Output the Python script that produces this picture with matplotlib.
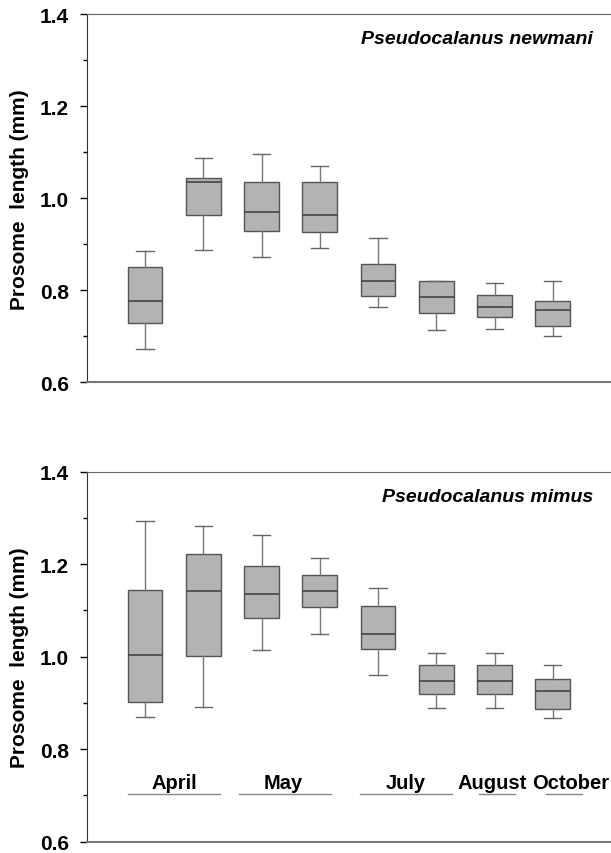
import matplotlib
matplotlib.use("Agg")
import matplotlib.pyplot as plt
from matplotlib.ticker import MultipleLocator, FormatStrFormatter

plt.rcParams["font.family"] = ["Liberation Sans", "DejaVu Sans"]

# box statistics (mm)
newmani_whislo = [0.673, 0.888, 0.872, 0.893, 0.765, 0.714, 0.716, 0.701]
newmani_q1 = [0.730, 0.964, 0.930, 0.927, 0.788, 0.750, 0.743, 0.722]
newmani_med = [0.777, 1.036, 0.971, 0.964, 0.821, 0.785, 0.763, 0.757]
newmani_q3 = [0.851, 1.044, 1.036, 1.035, 0.857, 0.820, 0.790, 0.777]
newmani_whishi = [0.885, 1.088, 1.097, 1.071, 0.913, 0.820, 0.816, 0.820]

mimus_whislo = [0.870, 0.892, 1.014, 1.050, 0.960, 0.890, 0.890, 0.867]
mimus_q1 = [0.903, 1.001, 1.084, 1.107, 1.017, 0.919, 0.919, 0.886]
mimus_med = [1.003, 1.143, 1.135, 1.142, 1.050, 0.947, 0.947, 0.925]
mimus_q3 = [1.144, 1.221, 1.197, 1.177, 1.109, 0.981, 0.981, 0.952]
mimus_whishi = [1.293, 1.282, 1.263, 1.213, 1.148, 1.009, 1.009, 0.983]

months = ["April", "May", "July", "August", "October"]
month_text_x = [1.50, 3.38, 5.48, 6.96, 8.31]
month_line_start = [0.70, 2.62, 4.69, 6.73, 7.88]
month_line_end = [2.29, 4.20, 6.27, 7.36, 8.50]


def make_stats(lo, q1, med, q3, hi):
    return [dict(whislo=a, q1=b, med=c, q3=d, whishi=e, fliers=[])
            for a, b, c, d, e in zip(lo, q1, med, q3, hi)]


def draw_panel(ax, stats, species):
    ax.bxp(stats, positions=range(1, len(stats) + 1), widths=0.6,
           patch_artist=True, showfliers=False,
           boxprops=dict(facecolor="#b3b3b3", edgecolor="#555555", linewidth=1.0),
           medianprops=dict(color="#444444", linewidth=1.2),
           whiskerprops=dict(color="#777777", linewidth=1.0),
           capprops=dict(color="#666666", linewidth=1.0))
    ax.set_xlim(0, 9)
    ax.set_ylim(0.6, 1.4)
    ax.yaxis.set_major_locator(MultipleLocator(0.2))
    ax.yaxis.set_minor_locator(MultipleLocator(0.1))
    ax.yaxis.set_major_formatter(FormatStrFormatter("%.1f"))
    ax.tick_params(axis="y", which="major", length=5, width=1, labelsize=15, pad=8)
    ax.tick_params(axis="y", which="minor", length=3, width=1)
    for lab in ax.get_yticklabels():
        lab.set_fontweight("bold")
    ax.set_xticks([])
    ax.spines["right"].set_visible(False)
    ax.spines["left"].set_color("#333333")
    ax.spines["top"].set_color("#666666")
    ax.spines["bottom"].set_color("#777777")
    ax.spines["bottom"].set_linewidth(1.5)
    ax.set_ylabel("Prosome  length (mm)", fontsize=15, fontweight="bold")
    ax.yaxis.set_label_coords(-0.11, 0.5)
    ax.text(8.69, 1.347, species, ha="right", va="center", fontsize=14,
            fontweight="bold", style="italic")


fig = plt.figure(figsize=(6.11, 8.54), dpi=100)
ax1 = fig.add_axes([0.142, 0.551, 0.858, 0.431])
ax2 = fig.add_axes([0.142, 0.0133, 0.858, 0.4332])

draw_panel(ax1, make_stats(newmani_whislo, newmani_q1, newmani_med,
                           newmani_q3, newmani_whishi), "Pseudocalanus newmani")
draw_panel(ax2, make_stats(mimus_whislo, mimus_q1, mimus_med,
                           mimus_q3, mimus_whishi), "Pseudocalanus mimus")

for name, tx, x0, x1 in zip(months, month_text_x, month_line_start, month_line_end):
    ax2.text(tx, 0.717, name, ha="center", va="baseline", fontsize=14.5,
             fontweight="bold")
    ax2.plot([x0, x1], [0.703, 0.703], color="#888888", linewidth=1.0)

fig.savefig("out.png", dpi=100)
